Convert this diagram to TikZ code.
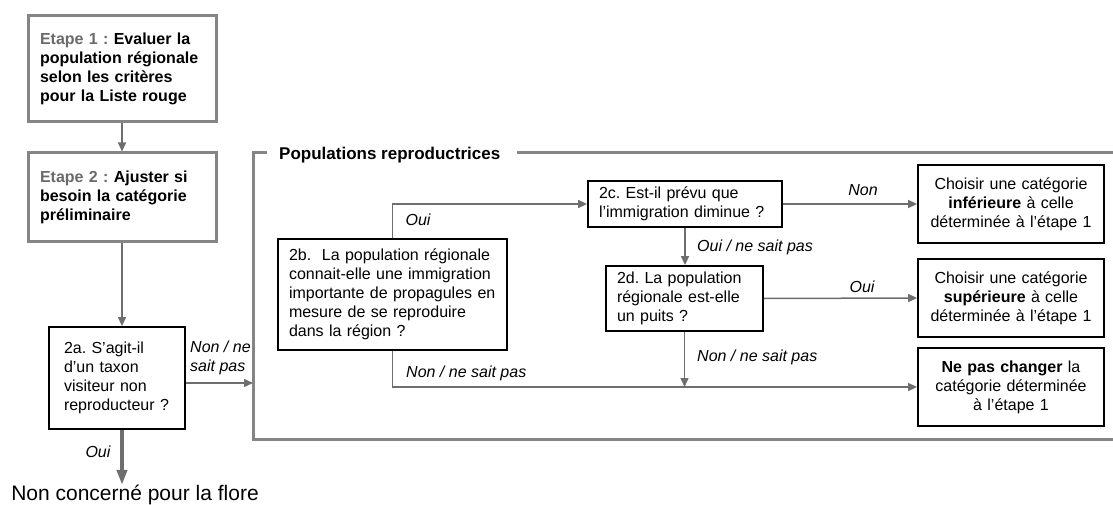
\documentclass[tikz,border=0pt]{standalone}
\usepackage{fontspec}
\setmainfont{Liberation Sans}
\usetikzlibrary{arrows.meta}
\definecolor{framegray}{HTML}{858585}
\definecolor{linegray}{HTML}{6E6E6E}
\definecolor{stepgray}{HTML}{6A6A6A}
\frenchspacing
\tikzset{
 txt/.style={font=\fontsize{16}{19}\selectfont},
 graybox/.style={draw=framegray, line width=3pt, txt, align=left, inner ysep=3pt},
 blackbox/.style={draw=black, line width=1.8pt, txt, inner ysep=3pt},
 conn/.style={draw=linegray, line width=1.5pt, -{Triangle[length=9pt,width=8pt]}},
 bigconn/.style={draw=linegray, line width=4pt, -{Triangle[length=15pt,width=10pt]}},
 lbl/.style={font=\fontsize{16}{19}\selectfont\itshape, inner sep=0pt},
 framestyle/.style={draw=framegray, line width=3pt},
}
\begin{document}
\begin{tikzpicture}[x=1pt,y=-1pt]
\useasboundingbox (0,0) rectangle (1113,505);
% frame
\draw[framestyle] (267,153) -- (253,153) -- (253,439) -- (1125,439);
\draw[framestyle] (517,153) -- (1125,153);
\coordinate (fl) at (253,383);
\node[anchor=west, font=\fontsize{17}{20}\selectfont\bfseries, inner sep=0pt] (t) at (279,155) {Populations reproductrices};
% left column
\node[graybox, text width=164pt, inner xsep=12pt, minimum height=106pt] (s1) at (122,69)
 {{\color{stepgray}\textbf{Etape 1 :}} \textbf{Evaluer la}\\ \textbf{population régionale}\\ \textbf{selon les critères}\\ \textbf{pour la Liste rouge}};
\node[graybox, text width=164pt, inner xsep=12pt, minimum height=88pt] (s2) at (122,197)
 {{\color{stepgray}\textbf{Etape 2 :}} \textbf{Ajuster si}\\ \textbf{besoin la catégorie}\\ \textbf{préliminaire}};
\node[blackbox, align=left, text width=106pt, inner xsep=15pt, minimum height=102pt] (a) at (117,378)
 {2a. S’agit-il\\ d’un taxon\\ visiteur non\\ reproducteur ?};
\node[font=\fontsize{21}{24}\selectfont, inner sep=0pt] (nc) at (135,495) {Non concerné pour la flore};
% inner boxes
\node[blackbox, align=left, text width=207pt, inner xsep=11pt, minimum height=111pt] (b) at (392.5,294.5)
 {2b.\ \ La population régionale\\ connait-elle une immigration\\ importante de propagules en\\ mesure de se reproduire\\ dans la région ?};
\node[blackbox, align=left, text width=172pt, inner xsep=11pt, minimum height=46pt] (c) at (685,204)
 {2c. Est-il prévu que\\ l’immigration diminue ?};
\node[blackbox, align=left, text width=135pt, inner xsep=11pt, minimum height=65pt] (d) at (684.5,298.5)
 {2d. La population\\ régionale est-elle\\ un puits ?};
\node[blackbox, align=center, text width=170pt, inner xsep=8pt, minimum height=78pt] (r1) at (1011,204)
 {Choisir une catégorie\\ \textbf{inférieure} à celle\\ déterminée à l’étape 1};
\node[blackbox, align=center, text width=170pt, inner xsep=8pt, minimum height=78pt] (r2) at (1011,298)
 {Choisir une catégorie\\ \textbf{supérieure} à celle\\ déterminée à l’étape 1};
\node[blackbox, align=center, text width=170pt, inner xsep=8pt, minimum height=78pt] (r3) at (1011,387)
 {\textbf{Ne pas changer} la\\ catégorie déterminée\\ à l’étape 1};
% labels
\node[lbl, align=left, anchor=west] (l1) at (190,358) {Non / ne\\sait pas};
\node[lbl] (l2) at (98,452) {Oui};
\node[lbl] (l3) at (418,220) {Oui};
\node[lbl] (l4) at (863,190) {Non};
\node[lbl, anchor=west] (l5) at (697,247) {Oui / ne sait pas};
\node[lbl] (l6) at (862,287) {Oui};
\node[lbl, anchor=west] (l7) at (697,357) {Non / ne sait pas};
\node[lbl, anchor=west] (l8) at (406,373) {Non / ne sait pas};
% connectors
\draw[conn] (s1.south) -- (s2.north);
\draw[conn] (s2.south) -- (s2.south |- a.north);
\draw[conn] (a.east |- fl) -- (fl);
\coordinate (oe) at (s2.south |- nc.north);
\draw[bigconn] (a.south -| oe) -- (oe);
\draw[conn] (b.north) |- (c.west);
\draw[conn] (c.east) -- (r1.west);
\draw[conn] (c.south) -- (c.south |- d.north);
\draw[conn] (d.east) -- (r2.west);
\draw[conn] (d.south) -- (d.south |- r3.west);
\draw[conn] (b.south) |- (r3.west);
\end{tikzpicture}
\end{document}
